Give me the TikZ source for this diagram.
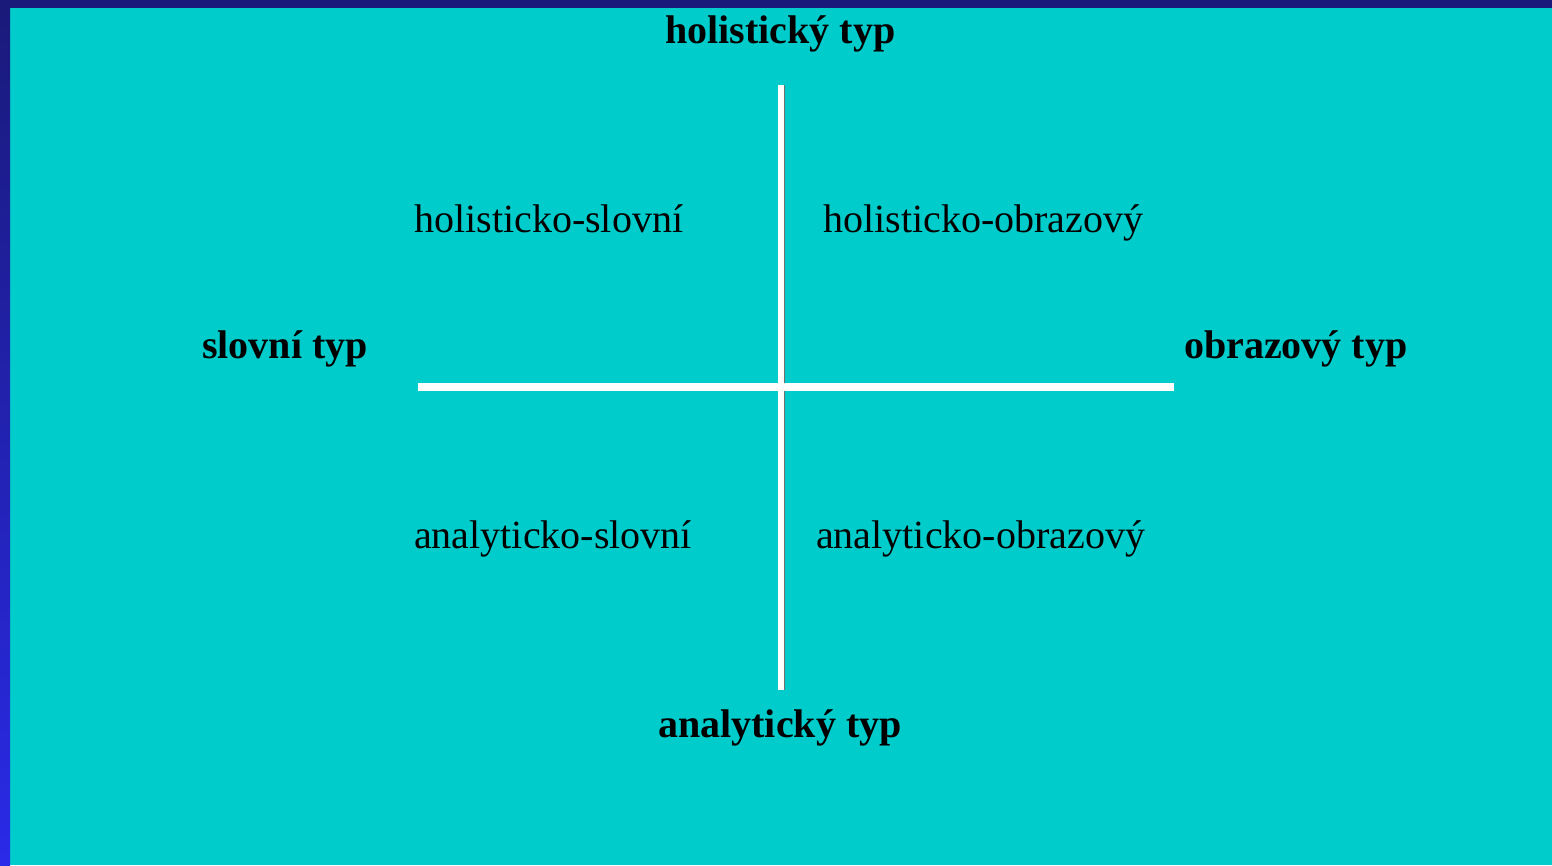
\documentclass[tikz,border=0pt]{standalone}
\usepackage{fontspec}
\setmainfont{Liberation Serif}
\definecolor{bgcyan}{HTML}{00CCCC}
\definecolor{navy}{HTML}{1A1A7A}
\definecolor{brightblue}{HTML}{2A2AE8}
\definecolor{shadowgray}{HTML}{707070}
\begin{document}
\begin{tikzpicture}[x=1pt,y=-1pt,
  axislabel/.style={font=\fontsize{40}{48}\selectfont\bfseries, anchor=base west, inner sep=0pt},
  quadlabel/.style={font=\fontsize{40}{48}\selectfont, anchor=base west, inner sep=0pt},
  axisline/.style={draw=white, line width=5.5pt},
  shadowline/.style={draw=shadowgray, line width=1.5pt}]
  \useasboundingbox (0,0) rectangle (1552,865);
  % background and frame
  \fill[bgcyan] (0,0) rectangle (1552,865);
  \fill[navy] (0,0) rectangle (1552,8);
  \shade[top color=navy, bottom color=brightblue] (0,0) rectangle (10,865);

  % axes
  \coordinate (vtop) at (780.75,85);
  \coordinate (vbot) at (780.75,690);
  \coordinate (hleft) at (418,387);
  \coordinate (hright) at (1174,387);
  \draw[shadowline] ([xshift=3.5pt]vtop) -- ([xshift=3.5pt]vbot);
  \draw[axisline] (vtop) -- (vbot);
  \draw[draw=white, line width=7.5pt] (hleft) -- (hright);

  % axis labels
  \node[axislabel] (holt) at (665,43.5) {holistický typ};
  \node[axislabel] (anat) at (658,737) {analytický typ};
  \node[axislabel] (slot) at (202,358) {slovní typ};
  \node[axislabel] (obrt) at (1184,358) {obrazový typ};

  % quadrant labels
  \node[quadlabel] (hs) at (414,232) {holisticko-slovní};
  \node[quadlabel] (ho) at (823,232) {holisticko-obrazový};
  \node[quadlabel] (as) at (414,548.5) {analyticko-slovní};
  \node[quadlabel] (ao) at (816,548.5) {analyticko-obrazový};
\end{tikzpicture}
\end{document}
